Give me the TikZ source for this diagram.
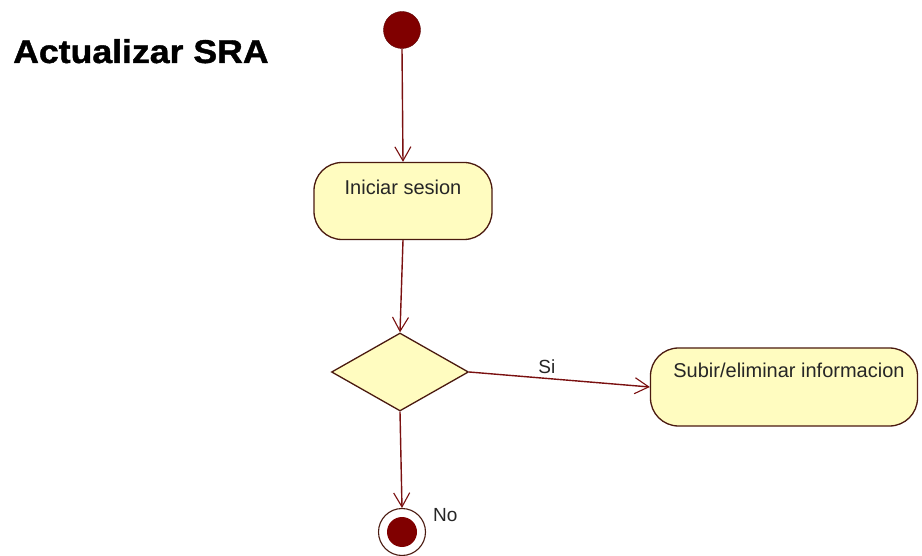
\documentclass[tikz,border=0pt]{standalone}
\usepackage{fontspec}
\setmainfont{Liberation Sans}
\newfontfamily\titlefont[FakeBold=1.2]{Liberation Sans Bold}
\usetikzlibrary{arrows.meta,shapes.geometric}
\definecolor{umlline}{HTML}{7A1010}
\definecolor{umlborder}{HTML}{4A1A10}
\definecolor{umlfill}{HTML}{FFFCC0}
\definecolor{umldot}{HTML}{800000}
\tikzset{
  act/.style={draw=umlborder, fill=umlfill, line width=1.3pt, rounded corners=28pt, inner sep=0pt},
  txt/.style={font=\fontsize{20}{24}\selectfont, inner sep=0pt, text=black!85},
  dec/.style={draw=umlborder, fill=umlfill, line width=1.3pt, diamond, inner sep=0pt, minimum width=137pt, minimum height=78pt},
  flow/.style={draw=umlline, line width=1.4pt, -{Straight Barb[length=14pt,width=16pt,line width=1.1pt]}},
}
\begin{document}
\begin{tikzpicture}[x=1pt,y=-1pt]
\useasboundingbox[fill=white] (0,0) rectangle (922,556);
\node[anchor=base west, inner sep=0pt, font=\fontsize{33}{36}\titlefont] (title) at (13,63) {\scalebox{1.08}[1]{Actualizar SRA}};
\node[circle, fill=umldot, draw=umldot!70!black, minimum size=37pt, inner sep=0pt] (start) at (402,30) {};
\node[act, minimum width=178pt, minimum height=77pt] (ini) at (403,201) {};
\node[txt] (initxt) at (403,187) {Iniciar sesion};
\node[dec] (d) at (400,372) {};
\node[act, minimum width=267pt, minimum height=78pt] (sub) at (784,387) {};
\node[txt] (subtxt) at (789,370) {Subir/eliminar informacion};
\node[circle, draw=umlborder, fill=white, line width=1.1pt, minimum size=47pt, inner sep=0pt] (end) at (402,532) {};
\node[circle, fill=umldot, minimum size=30pt, inner sep=0pt] (endin) at (end.center) {};
\draw[flow] (start.south) -- (ini.north);
\draw[flow] (ini.south) -- (d.north);
\draw[flow] (d.east) -- (sub.west) node[pos=0.43, above=4pt, txt, font=\fontsize{19}{22}\selectfont] (si) {Si};
\draw[flow] (d.south) -- (end.north);
\node[txt, anchor=west, font=\fontsize{19}{22}\selectfont] (no) at (433,515) {No};
\end{tikzpicture}
\end{document}
